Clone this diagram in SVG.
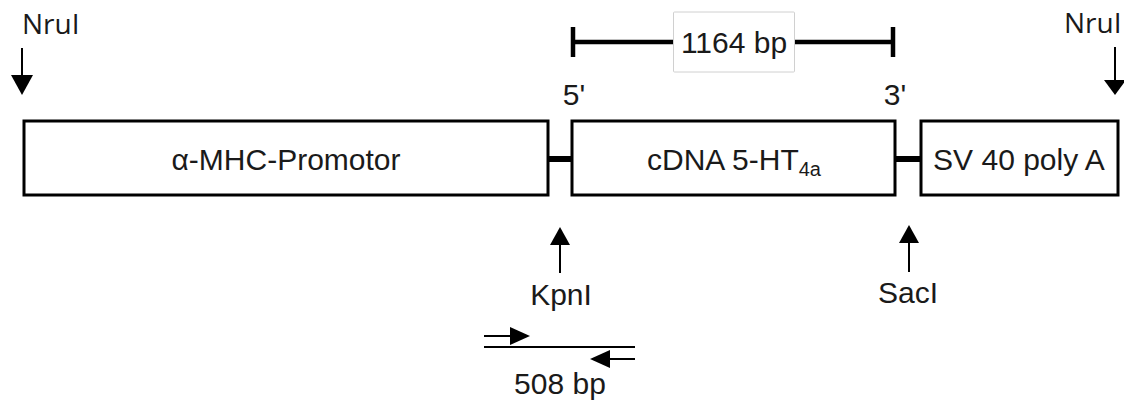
<svg xmlns="http://www.w3.org/2000/svg" width="1124" height="401" viewBox="0 0 1124 401">
<style>
.box{fill:#fff;stroke:#000;stroke-width:3}
.t{font-family:"Liberation Sans",Arial,sans-serif;font-size:30px;fill:#1a1a1a;text-anchor:middle}
.n{font-family:"Open Sans","Liberation Sans",sans-serif;font-size:28px;fill:#1a1a1a}
.bar{stroke:#000;stroke-width:6}
.sh{stroke:#000;stroke-width:2;fill:none}
.ah{fill:#000}
.dim{stroke:#000;stroke-width:4.5}
</style>
<rect width="1124" height="401" fill="#fff"/>
<g id="connectors">
  <line class="bar" x1="548" y1="159" x2="572" y2="159"/>
  <line class="bar" x1="895" y1="159" x2="921" y2="159"/>
</g>
<g id="promotor">
  <rect class="box" x="24" y="121" width="524" height="74"/>
  <text class="t" x="286" y="170" font-size="31">α-MHC-Promotor</text>
</g>
<g id="cdna">
  <rect class="box" x="572" y="121" width="323" height="74"/>
  <text class="t" x="734" y="170" font-size="30.5">cDNA 5-HT<tspan font-size="20" dy="6">4a</tspan></text>
</g>
<g id="sv40">
  <rect class="box" x="921" y="121" width="197" height="74"/>
  <text class="t" x="1019" y="170" font-size="30.5">SV 40 poly A</text>
</g>
<g id="length1164">
  <line class="dim" x1="573" y1="42" x2="673" y2="42"/>
  <line class="dim" x1="794" y1="42" x2="893" y2="42"/>
  <line class="dim" x1="573" y1="27" x2="573" y2="57"/>
  <line class="dim" x1="893" y1="27" x2="893" y2="57"/>
  <rect x="673.5" y="12" width="121" height="60" fill="#fff" stroke="#d0d0d0" stroke-width="1" rx="1"/>
  <text class="t" x="734" y="53" font-size="31">1164 bp</text>
</g>
<g id="ends">
  <text class="t" x="574" y="105">5'</text>
  <text class="t" x="895" y="105">3'</text>
</g>
<g id="nruI-left">
  <text class="n" x="22" y="34">NruI</text>
  <line class="sh" x1="22" y1="48" x2="22" y2="77"/>
  <polygon class="ah" points="11,75 33,75 22,95"/>
</g>
<g id="nruI-right">
  <text class="n" x="1064" y="33">NruI</text>
  <line class="sh" x1="1115" y1="47" x2="1115" y2="85"/>
  <polygon class="ah" points="1104,80 1126,80 1115,95"/>
</g>
<g id="kpnI">
  <line class="sh" x1="560" y1="243" x2="560" y2="273"/>
  <polygon class="ah" points="550,245 570,245 560,227"/>
  <text class="t" x="561" y="305" font-size="28">KpnI</text>
</g>
<g id="sacI">
  <line class="sh" x1="909" y1="241" x2="909" y2="272"/>
  <polygon class="ah" points="899,243 919,243 909,225"/>
  <text class="t" x="908" y="303" font-size="28">SacI</text>
</g>
<g id="pcr508">
  <line class="sh" x1="484" y1="347" x2="635" y2="347"/>
  <line class="sh" x1="484" y1="336" x2="512" y2="336"/>
  <polygon class="ah" points="510,327 510,345 530,336"/>
  <line class="sh" x1="608" y1="359" x2="635" y2="359"/>
  <polygon class="ah" points="610,350 610,368 590,359"/>
  <text class="t" x="560" y="394">508 bp</text>
</g>
</svg>
